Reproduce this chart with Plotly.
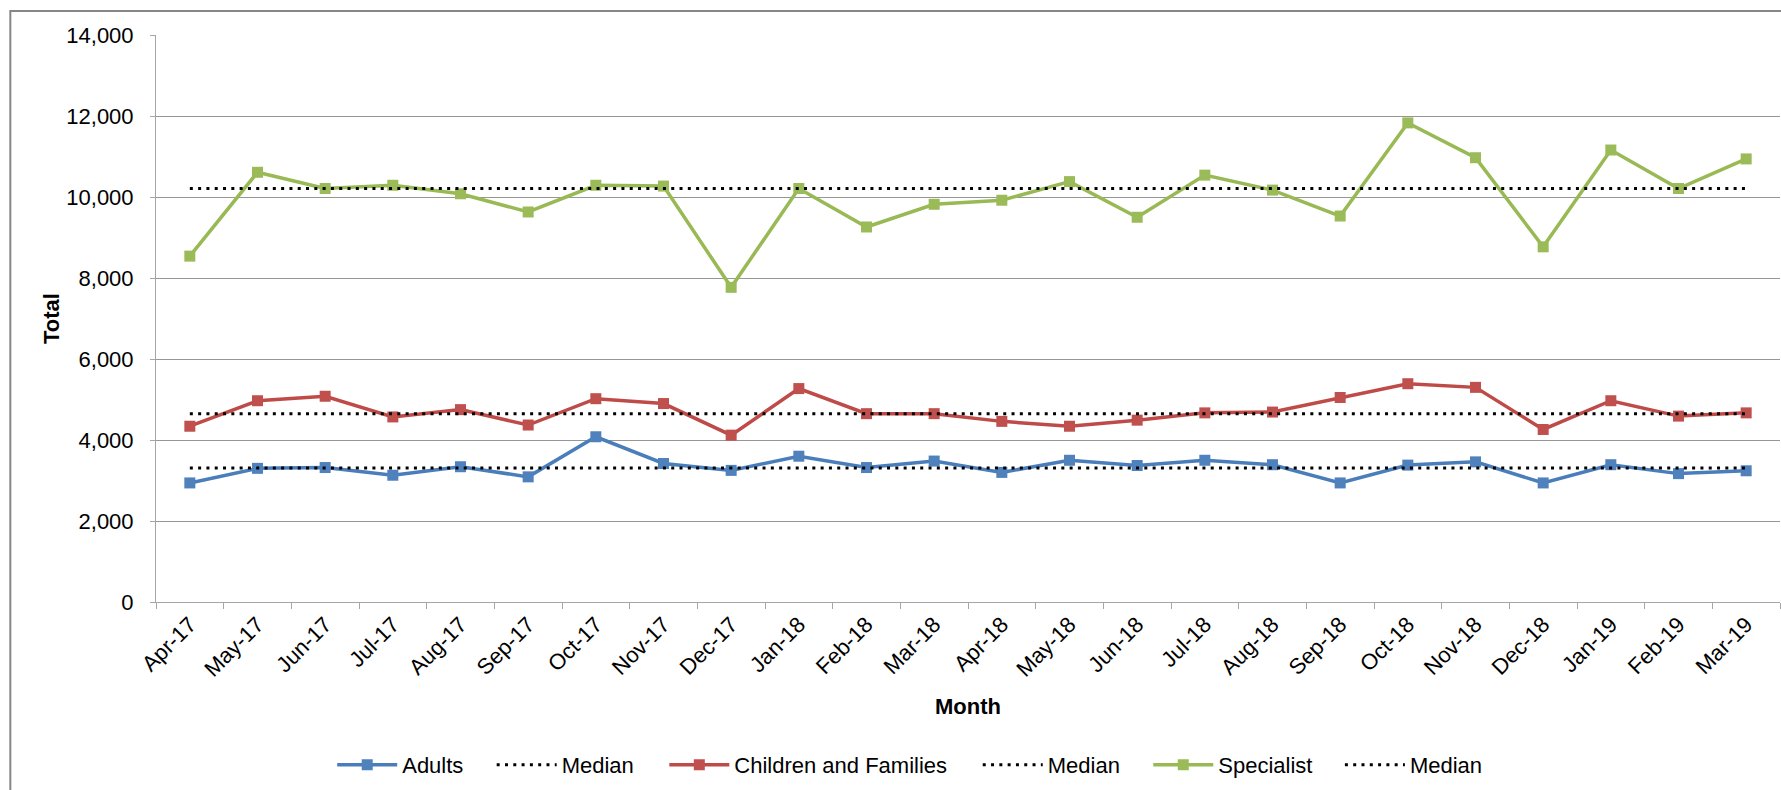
import plotly.graph_objects as go

# Monthly totals, April 2017 to March 2019
months = ["Apr-17", "May-17", "Jun-17", "Jul-17", "Aug-17", "Sep-17", "Oct-17", "Nov-17",
          "Dec-17", "Jan-18", "Feb-18", "Mar-18", "Apr-18", "May-18", "Jun-18", "Jul-18",
          "Aug-18", "Sep-18", "Oct-18", "Nov-18", "Dec-18", "Jan-19", "Feb-19", "Mar-19"]

adults = [2940, 3300, 3320, 3130, 3340, 3090, 4080, 3420, 3250, 3600, 3320, 3480,
          3200, 3500, 3370, 3500, 3390, 2940, 3380, 3460, 2940, 3390, 3170, 3240]

children_families = [4340, 4970, 5080, 4570, 4750, 4370, 5020, 4900, 4120, 5270, 4650, 4650,
                     4460, 4340, 4490, 4670, 4690, 5050, 5390, 5300, 4260, 4970, 4590, 4670]

specialist = [8540, 10610, 10210, 10290, 10080, 9630, 10290, 10270, 7770, 10210, 9260, 9820,
              9920, 10380, 9500, 10540, 10170, 9530, 11830, 10970, 8770, 11160, 10210, 10940]

# Median reference levels for each service
median_adults = 3310
median_children = 4650
median_specialist = 10210

series = [
    ("Adults", adults, median_adults, "#4A7EBB", "#4F81BD"),
    ("Children and Families", children_families, median_children, "#BE4B48", "#C0504D"),
    ("Specialist", specialist, median_specialist, "#98B954", "#9BBB59"),
]

FONT = "Liberation Sans, Arial, sans-serif"
FS = 22

# left edge (paper x) of each legend entry, in trace order
legend_x = [0.1085, 0.2067, 0.3130, 0.5060, 0.6110, 0.7290]

fig = go.Figure()
k = 0
for name, values, med, line_col, marker_col in series:
    fig.add_trace(go.Scatter(
        x=months, y=values, name=name, mode="lines+markers",
        line=dict(color=line_col, width=3.5),
        marker=dict(symbol="square", size=11, color=marker_col, line=dict(width=0)),
        legend="legend" if k == 0 else f"legend{k + 1}",
    ))
    k += 1
    fig.add_trace(go.Scatter(
        x=months, y=[med] * len(months), name="Median", mode="lines",
        line=dict(color="#000000", width=3, dash="3px,5.3px"),
        legend=f"legend{k + 1}",
    ))
    k += 1

# outer chart frame
fig.add_shape(type="rect", xref="paper", yref="paper",
              x0=-0.0897, x1=1.02, y0=-0.45, y1=1.0423,
              line=dict(color="#868686", width=2), layer="below")

legend_common = dict(orientation="h", xanchor="left", y=-0.2875, yanchor="middle",
                     font=dict(size=FS), itemwidth=60, bgcolor="rgba(0,0,0,0)")
legends = {}
for i, lx in enumerate(legend_x):
    key = "legend" if i == 0 else f"legend{i + 1}"
    legends[key] = dict(x=lx, **legend_common)

fig.update_layout(
    width=1781, height=790,
    margin=dict(l=156, r=1, t=35, b=188),
    plot_bgcolor="white", paper_bgcolor="white",
    font=dict(family=FONT, size=FS, color="#000000"),
    showlegend=True,
    xaxis=dict(
        type="category", tickangle=-45, tickson="boundaries",
        ticks="outside", ticklen=6, tickcolor="#A6A6A6",
        showline=True, linecolor="#A6A6A6", linewidth=1,
        showgrid=False,
        tickfont=dict(size=FS),
        title=dict(text="<b>Month</b>", font=dict(size=FS), standoff=18),
        range=[-0.5, len(months) - 0.5],
    ),
    yaxis=dict(
        range=[0, 14000], dtick=2000, tickformat=",",
        ticks="outside", ticklen=5, tickcolor="#A6A6A6",
        showline=True, linecolor="#A6A6A6", linewidth=1,
        showgrid=True, gridcolor="#969696", gridwidth=1,
        zeroline=False, ticklabelstandoff=12,
        tickfont=dict(size=FS),
        title=dict(text="<b>Total</b>", font=dict(size=FS), standoff=0),
    ),
    **legends,
)

fig.write_html("out.html")
